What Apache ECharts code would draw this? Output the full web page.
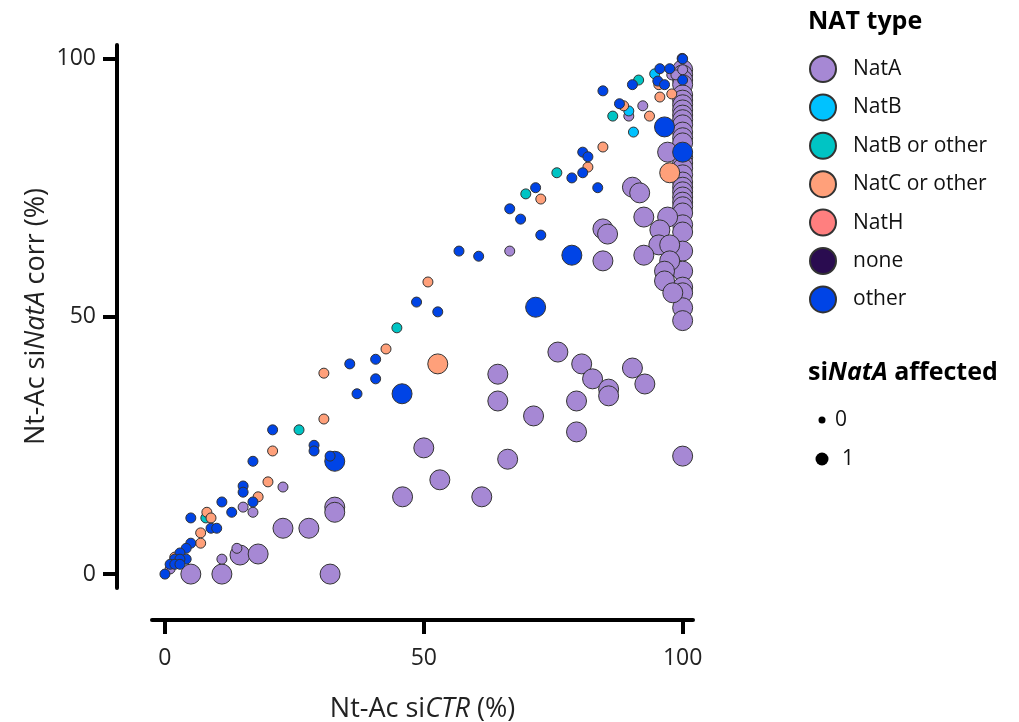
<!DOCTYPE html>
<html>
<head>
<meta charset="utf-8">
<script src="https://cdn.jsdelivr.net/npm/echarts@6/dist/echarts.min.js"></script>
<style>
  html, body { margin: 0; padding: 0; background: #fff; }
  #chart { width: 1019px; height: 722px; }
</style>
</head>
<body>
<div id="chart"></div>
<script>
// each point: [Nt-Ac siCTR %, Nt-Ac siNatA corr %, siNatA affected (0/1)]
var natA = [
  [100, 97.9, 1], [100, 96.9, 1], [100, 95.9, 1], [100, 95.0, 1], [100, 93.0, 1],
  [100, 92.0, 1], [100, 91.1, 1], [100, 90.1, 1], [100, 89.1, 1], [100, 88.2, 1],
  [100, 87.2, 1], [100, 85.8, 1], [100, 84.7, 1], [100, 83.7, 1], [100, 80.9, 1],
  [100, 79.8, 1], [100, 78.8, 1], [100, 77.5, 1], [100, 76.1, 1], [100, 75.1, 1],
  [100, 74.2, 1], [100, 73.2, 1], [100, 72.2, 1], [100, 71.3, 1], [100, 70.1, 1],
  [100, 67.8, 1], [100, 66.4, 1], [100, 62.7, 1], [100, 58.8, 1], [100, 55.7, 1],
  [100, 54.6, 1], [100, 51.7, 1], [100, 49.2, 1], [100, 22.9, 1],
  [97.1, 81.9, 1], [97.1, 69.3, 1], [92.5, 69.3, 1], [90.3, 75.1, 1], [91.7, 74.0, 1],
  [84.6, 67.0, 1], [85.5, 66.0, 1], [95.6, 66.8, 1], [95.4, 63.9, 1], [97.5, 63.9, 1],
  [92.5, 61.9, 1], [97.5, 60.8, 1], [96.5, 58.8, 1], [96.5, 56.9, 1], [98.1, 54.6, 1],
  [84.6, 60.8, 1], [90.3, 40.0, 1], [92.7, 36.9, 1], [75.9, 43.1, 1], [80.5, 40.8, 1],
  [82.6, 37.9, 1], [85.7, 35.9, 1], [85.7, 34.6, 1], [79.5, 33.6, 1], [64.3, 38.8, 1],
  [64.3, 33.6, 1], [71.2, 30.7, 1], [79.5, 27.6, 1], [66.2, 22.3, 1], [50.0, 24.5, 1],
  [53.1, 18.3, 1], [45.9, 15.0, 1], [61.2, 15.0, 1], [32.8, 13.0, 1], [32.8, 12.0, 1],
  [22.8, 8.9, 1], [27.8, 8.9, 1], [14.5, 3.7, 1], [18.0, 3.9, 1], [5.0, 0, 1],
  [11.0, 0, 1], [31.9, 0, 1],
  [92.3, 90.9, 0], [89.6, 88.9, 0], [66.6, 62.7, 0], [22.8, 16.9, 0], [15.1, 13.0, 0],
  [17.0, 12.0, 0], [13.9, 5.0, 0], [11.0, 2.9, 0], [1.0, 1.0, 0], [97.9, 96.9, 0],
  [98.7, 96.9, 0], [100, 97.9, 0]
];
var natB = [
  [94.6, 97.1, 0], [89.6, 89.9, 0], [90.5, 85.8, 0]
];
var natBOrOther = [
  [91.5, 95.9, 0], [86.5, 88.9, 0], [75.7, 77.9, 0], [69.7, 73.8, 0], [44.8, 47.8, 0],
  [25.9, 28.0, 0], [7.9, 10.9, 0]
];
var natCOrOther = [
  [97.5, 77.9, 1], [52.7, 40.8, 1],
  [95.4, 95.0, 0], [97.9, 93.2, 0], [95.6, 92.6, 0], [93.6, 88.9, 0], [88.6, 90.9, 0],
  [84.6, 82.9, 0], [81.7, 79.0, 0], [72.6, 72.8, 0], [50.8, 56.7, 0], [42.7, 43.7, 0],
  [30.7, 39.0, 0], [30.7, 30.1, 0], [20.8, 23.9, 0], [19.9, 17.9, 0], [18.0, 15.0, 0],
  [8.1, 12.0, 0], [8.9, 10.9, 0], [6.9, 8.0, 0], [6.9, 6.0, 0], [1.9, 3.3, 0]
];
var natH = [];
var none = [
  [99.9, 100.1, 0]
];
var other = [
  [96.5, 86.8, 1], [100, 81.9, 1], [78.6, 61.9, 1], [71.6, 51.8, 1], [45.8, 35.0, 1],
  [32.8, 21.9, 1],
  [100, 100, 0], [95.6, 98.1, 0], [97.5, 98.1, 0], [95.2, 95.7, 0], [96.5, 95.0, 0],
  [100, 95.9, 0], [90.3, 95.0, 0], [84.6, 93.8, 0], [87.8, 91.3, 0], [80.7, 81.9, 0],
  [81.7, 81.0, 0], [80.7, 77.9, 0], [83.6, 75.0, 0], [78.6, 76.9, 0], [71.6, 75.0, 0],
  [66.6, 70.9, 0], [68.7, 68.9, 0], [72.6, 65.8, 0], [56.8, 62.7, 0], [60.6, 61.7, 0],
  [48.6, 52.8, 0], [52.7, 50.9, 0], [40.7, 41.7, 0], [35.7, 40.8, 0], [40.7, 37.9, 0],
  [37.1, 35.0, 0], [20.8, 28.0, 0], [28.8, 25.0, 0], [28.8, 23.9, 0], [31.9, 22.9, 0],
  [17.0, 21.9, 0], [15.1, 17.1, 0], [15.1, 15.9, 0], [17.0, 14.0, 0], [11.0, 14.0, 0],
  [12.9, 12.0, 0], [5.0, 10.9, 0], [8.9, 8.9, 0], [10.0, 8.9, 0], [5.0, 6.0, 0],
  [4.1, 5.0, 0], [2.9, 4.1, 0], [4.1, 2.9, 0], [1.9, 2.9, 0], [2.9, 2.9, 0],
  [1.0, 1.9, 0], [1.9, 1.9, 0], [2.9, 1.9, 0], [0, 0, 0]
];

var natTypes = ['NatA', 'NatB', 'NatB or other', 'NatC or other', 'NatH', 'none', 'other'];
var natColors = ['#a688d4', '#00c2ff', '#00c4c4', '#ffa07a', '#ff7f7f', '#2a0c50', '#0044e6'];
var natData = [natA, natB, natBOrOther, natCOrOther, natH, none, other];
var axisTicks = [0, 50, 100];

var font = 'Open Sans';
var chart = echarts.init(document.getElementById('chart'));

var series = natTypes.map(function(name, i) {
  return {
    name: name,
    type: 'scatter',
    data: natData[i],
    symbolSize: function(d) {
      return d[2] ? 20 : 10;
    },
    itemStyle: {
      color: natColors[i],
      borderColor: '#333',
      borderWidth: 1,
      opacity: 1,
    },
    emphasis: {disabled: true},
  };
});

var axisCommon = {
  type: 'value',
  splitLine: {show: false},
  axisLine: {onZero: false, lineStyle: {color: '#000', width: 4}},
  axisTick: {
    customValues: axisTicks,
    length: 14,
    lineStyle: {color: '#000', width: 4},
  },
  axisLabel: {
    customValues: axisTicks,
    color: '#222',
    fontFamily: font,
    fontSize: 23,
  },
  nameLocation: 'middle',
  nameMoveOverlap: false,
};

var titleRich = {
  a: {fontFamily: font, fontSize: 27, color: '#222'},
  i: {fontFamily: font, fontSize: 27, fontStyle: 'italic', color: '#222'},
};

var options = {
  animation: false,
  backgroundColor: '#fff',
  textStyle: {fontFamily: font},

  title: [
    {
      text: 'NAT type',
      left: 803,
      top: 4,
      textStyle: {fontFamily: font, fontSize: 25, fontWeight: 'bold', color: '#000'},
    },
    {
      text: '{b|si}{bi|NatA}{b| affected}',
      left: 803,
      top: 355,
      textStyle: {
        rich: {
          b: {fontFamily: font, fontSize: 25, fontWeight: 'bold', color: '#000'},
          bi: {fontFamily: font, fontSize: 25, fontWeight: 'bold', fontStyle: 'italic', color: '#000'},
        },
      },
    },
  ],

  legend: {
    data: natTypes,
    orient: 'vertical',
    left: 804,
    top: 50,
    icon: 'circle',
    itemWidth: 26,
    itemHeight: 26,
    itemGap: 10.4,
    selectedMode: false,
    textStyle: {fontFamily: font, fontSize: 21, lineHeight: 26, color: '#111', padding: [0, 0, 0, 12]},
  },

  grid: {left: 152, right: 326, top: 45, bottom: 134, outerBoundsMode: 'none'},

  xAxis: Object.assign({}, axisCommon, {
    min: -2.5,
    max: 102,
    offset: 32,
    axisLabel: Object.assign({}, axisCommon.axisLabel, {margin: 27}),
    name: '{a|Nt-Ac si}{i|CTR}{a| (%)}',
    nameGap: 76,
    nameTextStyle: {rich: titleRich},
  }),

  yAxis: Object.assign({}, axisCommon, {
    min: -2.7,
    max: 102.7,
    offset: 35,
    axisLabel: Object.assign({}, axisCommon.axisLabel, {margin: 21}),
    name: '{a|Nt-Ac si}{i|NatA}{a| corr (%)}',
    nameGap: 67,
    nameTextStyle: {rich: titleRich},
  }),

  graphic: [
    {type: 'circle', shape: {cx: 822, cy: 420, r: 3.5}, style: {fill: '#000'}},
    {type: 'text', style: {x: 835, y: 420, text: '0', font: '21px "Open Sans"', fill: '#111', verticalAlign: 'middle'}},
    {type: 'circle', shape: {cx: 822, cy: 459, r: 6.5}, style: {fill: '#000'}},
    {type: 'text', style: {x: 842, y: 459, text: '1', font: '21px "Open Sans"', fill: '#111', verticalAlign: 'middle'}},
  ],

  series: series,
};

chart.setOption(options);
</script>
</body>
</html>
